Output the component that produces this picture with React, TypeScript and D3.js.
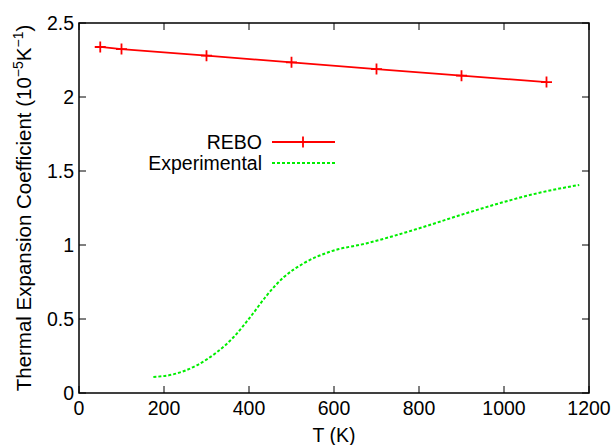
import React from "react";
import * as d3 from "d3";

// REBO simulation points
const reboT = [50, 100, 300, 500, 700, 900, 1100];
const reboAlpha = [2.338, 2.324, 2.279, 2.234, 2.189, 2.144, 2.101];

const expT = [175, 222, 277, 325, 364, 403, 442, 482, 529, 592, 678, 796, 906, 993, 1079, 1177];
const expAlpha = [0.108, 0.126, 0.187, 0.277, 0.378, 0.513, 0.66, 0.783, 0.877, 0.956, 1.012, 1.109, 1.21, 1.285, 1.35, 1.406];

const xTicks = [0, 200, 400, 600, 800, 1000, 1200];
const yTicks = [0, 0.5, 1, 1.5, 2, 2.5];

const W = 614;
const H = 445;
const margin = { top: 23, right: 25, bottom: 52, left: 79 };
const FONT = "'Liberation Sans', Arial, Helvetica, sans-serif";
const FS = 19.5;

const App = () => {
  const pw = W - margin.left - margin.right;
  const ph = H - margin.top - margin.bottom;

  const x = d3.scaleLinear().domain([0, 1200]).range([0, pw]);
  const y = d3.scaleLinear().domain([0, 2.5]).range([ph, 0]);

  const rebo = reboT.map((t, i) => ({ t, v: reboAlpha[i] }));
  const exp = expT.map((t, i) => ({ t, v: expAlpha[i] }));

  const line = d3
    .line<{ t: number; v: number }>()
    .x((d) => x(d.t))
    .y((d) => y(d.v));
  const smooth = d3
    .line<{ t: number; v: number }>()
    .x((d) => x(d.t))
    .y((d) => y(d.v))
    .curve(d3.curveMonotoneX);

  const tick = 7;
  const plus = (cx: number, cy: number, key: string) => (
    <path
      key={key}
      d={`M${cx - 5.5},${cy}H${cx + 5.5}M${cx},${cy - 5.5}V${cy + 5.5}`}
      stroke="#ff0000"
      strokeWidth={1.8}
    />
  );

  return (
    <svg
      width={W}
      height={H}
      style={{ position: "absolute", left: 0, top: 0, background: "#fff" }}
      fontFamily={FONT}
    >
      <g transform={`translate(${margin.left},${margin.top})`}>
        {/* ticks, mirrored on all sides */}
        {xTicks.map((t) => (
          <g key={"xt" + t}>
            <line x1={x(t)} x2={x(t)} y1={ph} y2={ph - tick} stroke="#000" strokeWidth={1} />
            <line x1={x(t)} x2={x(t)} y1={0} y2={tick} stroke="#000" strokeWidth={1} />
            <text x={x(t)} y={ph + 15} dy="0.35em" textAnchor="middle" fontSize={FS}>
              {t}
            </text>
          </g>
        ))}
        {yTicks.map((t) => (
          <g key={"yt" + t}>
            <line x1={0} x2={tick} y1={y(t)} y2={y(t)} stroke="#000" strokeWidth={1} />
            <line x1={pw} x2={pw - tick} y1={y(t)} y2={y(t)} stroke="#000" strokeWidth={1} />
            <text x={-5} y={y(t)} dy="0.35em" textAnchor="end" fontSize={FS}>
              {t}
            </text>
          </g>
        ))}

        {/* experimental */}
        <path
          d={smooth(exp) || ""}
          fill="none"
          stroke="#00ee00"
          strokeWidth={2}
          strokeDasharray="3,2"
        />

        {/* REBO */}
        <path d={line(rebo) || ""} fill="none" stroke="#ff0000" strokeWidth={1.8} />
        {rebo.map((d, i) => plus(x(d.t), y(d.v), "p" + i))}

        <rect x={0} y={0} width={pw} height={ph} fill="none" stroke="#000" strokeWidth={1.5} />

        {/* legend */}
        <text x={183} y={119} dy="0.35em" textAnchor="end" fontSize={FS}>
          REBO
        </text>
        <line x1={193} x2={256} y1={119} y2={119} stroke="#ff0000" strokeWidth={1.8} />
        {plus(224, 119, "leg")}
        <text x={183} y={140} dy="0.35em" textAnchor="end" fontSize={FS}>
          Experimental
        </text>
        <line
          x1={193}
          x2={256}
          y1={140}
          y2={140}
          stroke="#00ee00"
          strokeWidth={2}
          strokeDasharray="3,2"
        />
      </g>

      <text x={margin.left + pw / 2} y={435} dy="0.35em" textAnchor="middle" fontSize={FS}>
        T (K)
      </text>
      <text
        transform={`translate(24,${margin.top + ph / 2}) rotate(-90)`}
        textAnchor="middle"
        dy="0.35em"
        fontSize={20.5}
      >
        Thermal Expansion Coefficient (10
        <tspan fontSize={14} dy={-8}>−5</tspan>
        <tspan dy={8}>K</tspan>
        <tspan fontSize={14} dy={-8}>−1</tspan>
        <tspan dy={8}>)</tspan>
      </text>
    </svg>
  );
};

export default App;
